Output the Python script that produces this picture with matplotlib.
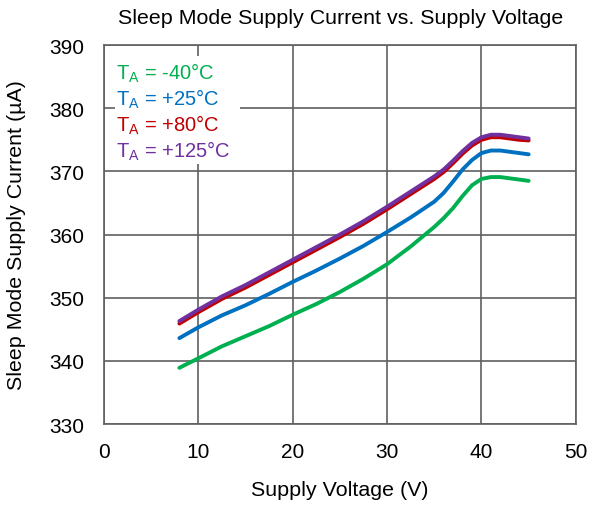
import numpy as np
import matplotlib.pyplot as plt
from matplotlib.patches import Rectangle

plt.rcParams['font.family'] = ['Liberation Sans', 'DejaVu Sans']
plt.rcParams['mathtext.fontset'] = 'custom'
plt.rcParams['mathtext.rm'] = 'Liberation Sans'
plt.rcParams['mathtext.it'] = 'Liberation Sans'

# data
volts = [8, 10, 12.5, 15, 17.5, 20, 22.5, 25, 27.5, 30, 32.5, 35, 36, 37, 38, 39, 40, 41, 42, 43, 44, 45]
i_m40 = [338.9, 340.4, 342.3, 343.9, 345.5, 347.3, 349.0, 350.9, 353.0, 355.3, 358.1, 361.2,
         362.6, 364.2, 366.1, 367.8, 368.8, 369.1, 369.1, 368.9, 368.7, 368.5]
i_25 = [343.6, 345.3, 347.2, 348.8, 350.6, 352.5, 354.3, 356.2, 358.2, 360.4, 362.7, 365.2,
        366.6, 368.4, 370.3, 371.8, 372.9, 373.3, 373.3, 373.1, 372.9, 372.7]
i_80 = [345.9, 347.7, 349.8, 351.6, 353.6, 355.6, 357.6, 359.6, 361.7, 364.0, 366.4, 368.8,
        369.9, 371.3, 372.8, 374.1, 375.0, 375.4, 375.4, 375.2, 375.0, 374.9]
i_125 = [346.3, 348.1, 350.2, 352.0, 354.0, 356.0, 358.0, 360.0, 362.1, 364.4, 366.8, 369.2,
         370.3, 371.7, 373.2, 374.5, 375.4, 375.8, 375.8, 375.6, 375.4, 375.2]

labels = ['-40', '+25', '+80', '+125']
colors = ['#00B050', '#0070C0', '#C00000', '#7030A0']
series = [i_m40, i_25, i_80, i_125]

fig = plt.figure(figsize=(5.9, 5.06), dpi=100)
ax = fig.add_axes([0.176, 0.160, 0.800, 0.749])

for y, c in zip(series, colors):
    ax.plot(volts, y, color=c, lw=2.8, solid_capstyle='round', solid_joinstyle='round', zorder=3)

ax.set_xlim(0, 50)
ax.set_ylim(330, 390)
ax.set_xticks(range(0, 51, 10))
ax.set_yticks(range(330, 391, 10))
ax.grid(True, color='#606060', lw=1.2)
for s in ax.spines.values():
    s.set_color('#606060')
    s.set_linewidth(1.2)
ax.tick_params(length=0, labelsize=15)
ax.tick_params(axis='y', pad=14)
ax.tick_params(axis='x', pad=13)

ax.set_xlabel('Supply Voltage (V)', fontsize=15.4)
ax.set_ylabel('Sleep Mode Supply Current (\u00b5A)', fontsize=15.4)
ax.xaxis.label.set_va('center')
ax.yaxis.label.set_va('center')
ax.xaxis.set_label_coords(0.5, -0.172)
ax.yaxis.set_label_coords(-0.186, 0.5)
fig.text(0.577, 1 - 18 / 506, 'Sleep Mode Supply Current vs. Supply Voltage',
         fontsize=15.4, ha='center', va='center')

# legend box and text
ax.add_patch(Rectangle((0.023, 0.686), 0.265, 0.285, transform=ax.transAxes,
                       facecolor='white', edgecolor='none', zorder=2.5))
for k, (lab, c) in enumerate(zip(labels, colors)):
    ax.text(0.025, 0.96 - k * 0.069, 'T$_\\mathregular{A}$ = ' + lab + '\u00b0C',
            transform=ax.transAxes, color=c, fontsize=14.5, va='top', ha='left', zorder=4)

plt.savefig('out.png', dpi=100)
